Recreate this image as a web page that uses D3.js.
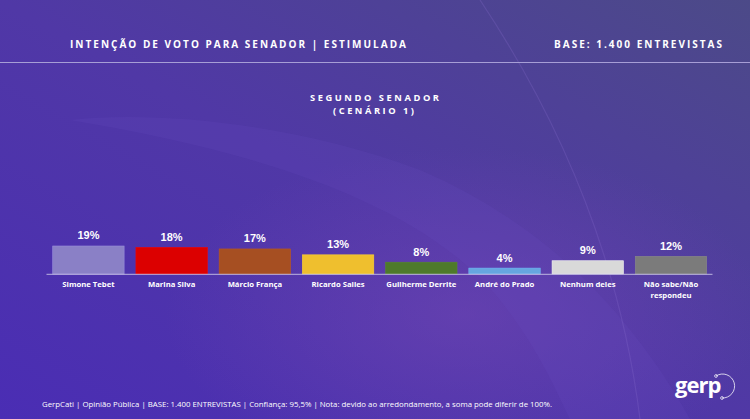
<!DOCTYPE html>
<html><head><meta charset="utf-8">
<script src="https://cdn.jsdelivr.net/npm/d3@7"></script>
<style>html,body{margin:0;padding:0;background:#4a34a0;}svg{display:block;}</style>
</head><body>
<svg id="chart" width="750" height="419"></svg>
<script>
const categories = ["Simone Tebet","Marina Silva","Márcio França","Ricardo Salles","Guilherme Derrite","André do Prado","Nenhum deles","Não sabe/Não respondeu"];
const values = [19,18,17,13,8,4,9,12];
const colors = ["#8a80c6","#dc0000","#a64f22","#efbf2e","#4e7a2b","#66a6df","#d9d9d9","#7b7b7b"];
const labelLines = [["Simone Tebet"],["Marina Silva"],["Márcio França"],["Ricardo Salles"],["Guilherme Derrite"],["André do Prado"],["Nenhum deles"],["Não sabe/Não","respondeu"]];

const svg = d3.select("#chart");
const W = 750, H = 419;
const defs = svg.append("defs");
const lg = defs.append("linearGradient").attr("id","bg").attr("x1","0").attr("y1","1").attr("x2","1").attr("y2","0");
lg.append("stop").attr("offset","0").attr("stop-color","#4a2db4");
lg.append("stop").attr("offset","0.5").attr("stop-color","#5038a6");
lg.append("stop").attr("offset","1").attr("stop-color","#4c4a88");
svg.append("rect").attr("width",W).attr("height",H).attr("fill","url(#bg)");
const rg = defs.append("radialGradient").attr("id","glow").attr("cx","0.62").attr("cy","0.75").attr("r","0.4");
rg.append("stop").attr("offset","0").attr("stop-color","#7a4ab8").attr("stop-opacity",0.45);
rg.append("stop").attr("offset","1").attr("stop-color","#7a4ab8").attr("stop-opacity",0);
svg.append("rect").attr("width",W).attr("height",H).attr("fill","url(#glow)");
// decorative swirl
svg.append("path").attr("d","M70,120 C250,150 420,200 500,300 C540,350 560,400 570,419 L690,419 C640,330 560,230 420,170 C300,125 160,110 70,120 Z")
  .attr("fill","#6a4cc0").attr("opacity",0.18);
svg.append("path").attr("d","M480,0 C560,120 620,260 640,419").attr("fill","none").attr("stroke","#8a70d0").attr("stroke-width",1.2).attr("opacity",0.25);

// header
svg.append("text").attr("x",70).attr("y",48).attr("fill","#fff").attr("font-family","Open Sans").attr("font-weight","bold")
  .attr("font-size",10).attr("textLength",336).attr("lengthAdjust","spacing").text("INTENÇÃO DE VOTO PARA SENADOR | ESTIMULADA");
svg.append("text").attr("x",554).attr("y",48).attr("fill","#fff").attr("font-family","Open Sans").attr("font-weight","bold")
  .attr("font-size",10).attr("textLength",168).attr("lengthAdjust","spacing").text("BASE: 1.400 ENTREVISTAS");
svg.append("line").attr("x1",0).attr("x2",W).attr("y1",62.5).attr("y2",62.5).attr("stroke","#a79ed6").attr("stroke-width",1.2);

// subtitle
svg.append("text").attr("x",310).attr("y",100.5).attr("fill","#fff").attr("font-family","Open Sans").attr("font-weight","bold")
  .attr("font-size",9.3).attr("textLength",129).attr("lengthAdjust","spacing").text("SEGUNDO SENADOR");
svg.append("text").attr("x",333).attr("y",113.5).attr("fill","#fff").attr("font-family","Open Sans").attr("font-weight","bold")
  .attr("font-size",9.3).attr("textLength",81).attr("lengthAdjust","spacing").text("(CENÁRIO 1)");

// chart
const baseY = 274;
const x = d3.scaleBand().domain(categories).range([46.8, 712.6]).paddingInner(0.142).paddingOuter(0.071);
const y = d3.scaleLinear().domain([0,100]).range([baseY, baseY-147.4]);

const g = svg.append("g");
g.selectAll("rect.bar").data(values).join("rect").attr("class","bar")
  .attr("x",(d,i)=>x(categories[i])).attr("width",x.bandwidth())
  .attr("y",d=>y(d)).attr("height",d=>baseY-y(d))
  .attr("fill",(d,i)=>colors[i]).attr("stroke",(d,i)=>d3.color(colors[i]).brighter(0.3)).attr("stroke-width",0.6);

g.selectAll("text.val").data(values).join("text").attr("class","val")
  .attr("x",(d,i)=>x(categories[i])+x.bandwidth()/2).attr("y",d=>y(d)-6.5)
  .attr("text-anchor","middle").attr("fill","#fff").attr("font-family","Liberation Sans, Arial").attr("font-weight","bold")
  .attr("font-size",11).text(d=>d+"%");

svg.append("line").attr("x1",46.5).attr("x2",712.5).attr("y1",baseY+0.3).attr("y2",baseY+0.3).attr("stroke","#c9c3e6").attr("stroke-width",0.9);

categories.forEach((c,i)=>{
  const t = g.append("text").attr("x",x(c)+x.bandwidth()/2).attr("y",287)
    .attr("text-anchor","middle").attr("fill","#fff").attr("font-family","Open Sans").attr("font-weight","bold").attr("font-size",7.7);
  labelLines[i].forEach((l,j)=>t.append("tspan").attr("x",x(c)+x.bandwidth()/2).attr("dy",j?10.8:0).text(l));
});

// footer
svg.append("text").attr("x",42).attr("y",407).attr("fill","#fff").attr("font-family","Open Sans").attr("font-size",7.6)
  .attr("textLength",510).attr("lengthAdjust","spacingAndGlyphs")
  .text("GerpCati | Opinião Pública | BASE: 1.400 ENTREVISTAS | Confiança: 95,5% | Nota: devido ao arredondamento, a soma pode diferir de 100%.");

// logo
const lg2 = svg.append("g");
lg2.append("text").attr("x",675).attr("y",393).attr("fill","#fff").attr("font-family","Open Sans").attr("font-weight","bold")
  .attr("font-size",22).attr("letter-spacing",-1).text("gerp");
lg2.append("path").attr("d","M716,376 A12,12 0 1 1 722,398").attr("fill","none").attr("stroke","#fff").attr("stroke-width",0.9).attr("opacity",0.85);
lg2.append("circle").attr("cx",716).attr("cy",376).attr("r",1.4).attr("fill","none").attr("stroke","#fff").attr("stroke-width",0.7);
lg2.append("circle").attr("cx",722).attr("cy",398).attr("r",1.4).attr("fill","none").attr("stroke","#fff").attr("stroke-width",0.7);
</script>
</body></html>
